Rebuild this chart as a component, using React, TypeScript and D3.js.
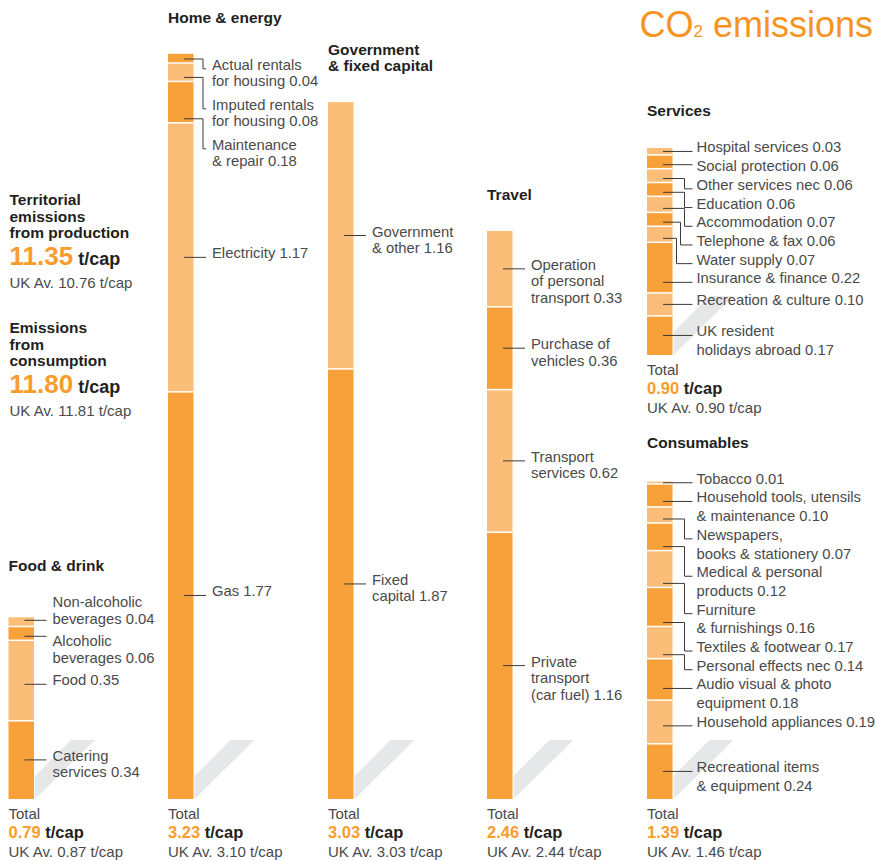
import React from "react";
import * as d3 from "d3";

// ---------- data ----------
const CATEGORY_NAMES = ["Food & drink", "Home & energy", "Government\n& fixed capital", "Travel", "Services", "Consumables"];
const CATEGORY_TOTALS = [0.79, 3.23, 3.03, 2.46, 0.9, 1.39];
const UK_AVERAGES = [0.87, 3.1, 3.03, 2.44, 0.9, 1.46];

const FOOD_LABELS = ["Non-alcoholic\nbeverages", "Alcoholic\nbeverages", "Food", "Catering\nservices"];
const FOOD_VALUES = [0.04, 0.06, 0.35, 0.34];

const HOME_LABELS = ["Actual rentals\nfor housing", "Imputed rentals\nfor housing", "Maintenance\n& repair", "Electricity", "Gas"];
const HOME_VALUES = [0.04, 0.08, 0.18, 1.17, 1.77];

const GOV_LABELS = ["Government\n& other", "Fixed\ncapital"];
const GOV_VALUES = [1.16, 1.87];

const TRAVEL_LABELS = ["Operation\nof personal\ntransport", "Purchase of\nvehicles", "Transport\nservices", "Private\ntransport\n(car fuel)"];
const TRAVEL_VALUES = [0.33, 0.36, 0.62, 1.16];

const SERVICES_LABELS = [
  "Hospital services", "Social protection", "Other services nec", "Education", "Accommodation",
  "Telephone & fax", "Water supply", "Insurance & finance", "Recreation & culture", "UK resident\nholidays abroad",
];
const SERVICES_VALUES = [0.03, 0.06, 0.06, 0.06, 0.07, 0.06, 0.07, 0.22, 0.1, 0.17];

const CONSUMABLES_LABELS = [
  "Tobacco", "Household tools, utensils\n& maintenance", "Newspapers,\nbooks & stationery", "Medical & personal\nproducts",
  "Furniture\n& furnishings", "Textiles & footwear", "Personal effects nec", "Audio visual & photo\nequipment",
  "Household appliances", "Recreational items\n& equipment",
];
const CONSUMABLES_VALUES = [0.01, 0.1, 0.07, 0.12, 0.16, 0.17, 0.14, 0.18, 0.19, 0.24];

const HEADLINE_LABELS = ["Territorial\nemissions\nfrom production", "Emissions\nfrom\nconsumption"];
const HEADLINE_VALUES = [11.35, 11.8];
const HEADLINE_UK = [10.76, 11.81];

const SEGMENT_LABELS = [FOOD_LABELS, HOME_LABELS, GOV_LABELS, TRAVEL_LABELS, SERVICES_LABELS, CONSUMABLES_LABELS];
const SEGMENT_VALUES = [FOOD_VALUES, HOME_VALUES, GOV_VALUES, TRAVEL_VALUES, SERVICES_VALUES, CONSUMABLES_VALUES];

// ---------- layout / style ----------
const W = 875;
const H = 861;
const FONT = "'Liberation Sans', Arial, Helvetica, sans-serif";
const DARK = "#f8a13b";
const LIGHT = "#fbbe78";
const ORANGE_TEXT = "#f89c2d";
const TITLE_ORANGE = "#f7941e";
const INK = "#231f20";
const GREY_TEXT = "#4a4a4a";
const LEADER = "#3a3a3a";
const SHADOW = "#e6e7e8";
const BAR_W = 25.5;

type Mode = "down" | "both";
const COLUMNS: { x: number; bottom: number; labelDx: number; lh: number; gap: number; mode: Mode; minTopDy: number | null; right: boolean }[] = [
  { x: 8.5, bottom: 799, labelDx: 44, lh: 16.5, gap: 6, mode: "both", minTopDy: null, right: false },
  { x: 168, bottom: 799, labelDx: 44, lh: 16.5, gap: 7, mode: "down", minTopDy: 15, right: false },
  { x: 328, bottom: 799, labelDx: 44, lh: 16.5, gap: 6, mode: "down", minTopDy: null, right: false },
  { x: 487, bottom: 799, labelDx: 44, lh: 16.5, gap: 6, mode: "down", minTopDy: null, right: false },
  { x: 647, bottom: 355, labelDx: 49.5, lh: 18.7, gap: 0, mode: "down", minTopDy: null, right: true },
  { x: 647, bottom: 799, labelDx: 49.5, lh: 18.7, gap: 0, mode: "down", minTopDy: null, right: true },
];

const heightScale = d3.scaleLinear().domain([0, 1]).range([0, 230]);
const fmt = d3.format(".2f");

function placeLabels(desired: number[], seps: number[], mode: Mode, minTop: number | null): number[] {
  const off: number[] = [0];
  for (let i = 1; i < desired.length; i++) off[i] = off[i - 1] + seps[i - 1];
  const t = desired.map((d, i) => d - off[i]);
  const q: number[] = [];
  if (mode === "down") {
    let m = minTop == null ? -Infinity : minTop;
    for (const v of t) {
      m = Math.max(m, v);
      q.push(m);
    }
  } else {
    const blocks: { sum: number; n: number }[] = [];
    for (const v of t) {
      blocks.push({ sum: v, n: 1 });
      while (blocks.length > 1) {
        const a = blocks[blocks.length - 2];
        const b = blocks[blocks.length - 1];
        if (a.sum / a.n > b.sum / b.n) {
          blocks.pop();
          a.sum += b.sum;
          a.n += b.n;
        } else break;
      }
    }
    for (const b of blocks) for (let k = 0; k < b.n; k++) q.push(b.sum / b.n);
  }
  return q.map((v, i) => v + off[i]);
}

function Column({ idx }: { idx: number }) {
  const col = COLUMNS[idx];
  const values = SEGMENT_VALUES[idx];
  const labels = SEGMENT_LABELS[idx];
  const n = values.length;
  const below = values.map((_, i) => d3.sum(values.slice(i + 1)));
  const segs = values.map((v, i) => {
    const bot = col.bottom - heightScale(below[i]);
    const top = bot - heightScale(v);
    return { top, bot, mid: (top + bot) / 2, color: (n - 1 - i) % 2 === 0 ? DARK : LIGHT };
  });
  const barTop = segs[0].top;
  const lines = labels.map((l) => l.split("\n"));
  const seps = lines.map((ls) => ls.length * col.lh + col.gap);
  const anchors = placeLabels(
    segs.map((s) => s.mid),
    seps,
    col.mode,
    col.minTopDy == null ? null : barTop + col.minTopDy
  );
  const labelX = col.x + col.labelDx;
  const startX = col.x + 16;
  const endX = labelX - (col.right ? 4 : 6);
  const elbowDefault = labelX - (col.right ? 12 : 9);

  let prevRange: [number, number] | null = null;
  let prevElbow = elbowDefault;
  const leaders = anchors.map((a, i) => {
    const s = segs[i];
    let lo = s.top + 3;
    let hi = s.bot - 4;
    if (hi < lo) lo = hi = s.mid;
    if (a >= lo && a <= hi) {
      prevRange = null;
      return `M${startX},${a}H${endX}`;
    }
    const y0 = Math.max(lo, Math.min(hi, a));
    // straight if the leader already hits one of the label's text lines
    const hitsText = lines[i].some((_, k) => {
      const base = a + 1 + k * col.lh;
      return y0 >= base - 10.5 && y0 <= base + 0.5;
    });
    if (hitsText) {
      prevRange = null;
      return `M${startX},${y0}H${endX}`;
    }
    let ex = elbowDefault;
    if (prevRange && y0 < prevRange[1] && a > prevRange[0]) ex = prevElbow - 4;
    prevRange = [y0, a];
    prevElbow = ex;
    return `M${startX},${y0}H${ex}V${a}H${endX}`;
  });

  const right = col.x + BAR_W + 1;
  const shadow = [
    [right, col.bottom],
    [right + 60, col.bottom - 59],
    [right + 36, col.bottom - 59],
    [right, col.bottom - 23],
  ];

  const heading = CATEGORY_NAMES[idx].split("\n");
  const firstBaseline = anchors[0] + 1;
  const headingLast = Math.min(barTop - 31, firstBaseline - 36);

  return (
    <g>
      <path d={d3.line()(shadow as [number, number][]) + "Z"} fill={SHADOW} />
      {segs.map((s, i) => (
        <rect key={i} x={col.x} y={s.top} width={BAR_W} height={s.bot - s.top} fill={s.color} />
      ))}
      {segs.slice(1).map((s, i) => (
        <line key={i} x1={col.x} x2={col.x + BAR_W} y1={s.top} y2={s.top} stroke="#fff" strokeWidth={1.5} />
      ))}
      {leaders.map((d, i) => (
        <path key={i} d={d} fill="none" stroke={LEADER} strokeWidth={1} />
      ))}
      {lines.map((ls, i) => (
        <text key={i} x={labelX} fontSize={14.8} fill={GREY_TEXT} fontFamily={FONT}>
          {ls.map((t, k) => (
            <tspan key={k} x={labelX} y={anchors[i] + 1 + k * col.lh}>
              {k === ls.length - 1 ? `${t} ${fmt(values[i])}` : t}
            </tspan>
          ))}
        </text>
      ))}
      <text fontSize={15.5} fontWeight="bold" fill={INK} fontFamily={FONT}>
        {heading.map((t, k) => (
          <tspan key={k} x={col.x} y={headingLast - (heading.length - 1 - k) * 16}>
            {t}
          </tspan>
        ))}
      </text>
      <text x={col.x} y={col.bottom + 20} fontSize={15} fill={GREY_TEXT} fontFamily={FONT}>
        Total
      </text>
      <text x={col.x} y={col.bottom + 39} fontSize={16.5} fontWeight="bold" fontFamily={FONT}>
        <tspan fill={ORANGE_TEXT}>{fmt(CATEGORY_TOTALS[idx])}</tspan>
        <tspan fill={INK}> t/cap</tspan>
      </text>
      <text x={col.x} y={col.bottom + 58} fontSize={15} fill={GREY_TEXT} fontFamily={FONT}>
        {`UK Av. ${fmt(UK_AVERAGES[idx])} t/cap`}
      </text>
    </g>
  );
}

const HEADLINE_Y = [205, 333];

export default function App() {
  return (
    <svg width={W} height={H} style={{ position: "absolute", left: 0, top: 0, background: "#fff" }}>
      <text x={873} y={37} textAnchor="end" fontSize={36} fill={TITLE_ORANGE} fontFamily={FONT}>
        <tspan>CO</tspan>
        <tspan fontSize={17}>2</tspan>
        <tspan> emissions</tspan>
      </text>
      {HEADLINE_LABELS.map((lab, i) => {
        const ls = lab.split("\n");
        const y0 = HEADLINE_Y[i];
        const last = y0 + (ls.length - 1) * 16.5;
        return (
          <g key={i}>
            <text fontSize={15.5} fontWeight="bold" fill={INK} fontFamily={FONT}>
              {ls.map((t, k) => (
                <tspan key={k} x={9.5} y={y0 + k * 16.5}>
                  {t}
                </tspan>
              ))}
            </text>
            <text x={9.5} y={last + 27} fontWeight="bold" fontFamily={FONT}>
              <tspan fontSize={26} fill={ORANGE_TEXT}>{fmt(HEADLINE_VALUES[i])}</tspan>
              <tspan fontSize={18} fill={INK}> t/cap</tspan>
            </text>
            <text x={9.5} y={last + 49.5} fontSize={15} fill={GREY_TEXT} fontFamily={FONT}>
              {`UK Av. ${fmt(HEADLINE_UK[i])} t/cap`}
            </text>
          </g>
        );
      })}
      {COLUMNS.map((_, i) => (
        <Column key={i} idx={i} />
      ))}
    </svg>
  );
}
